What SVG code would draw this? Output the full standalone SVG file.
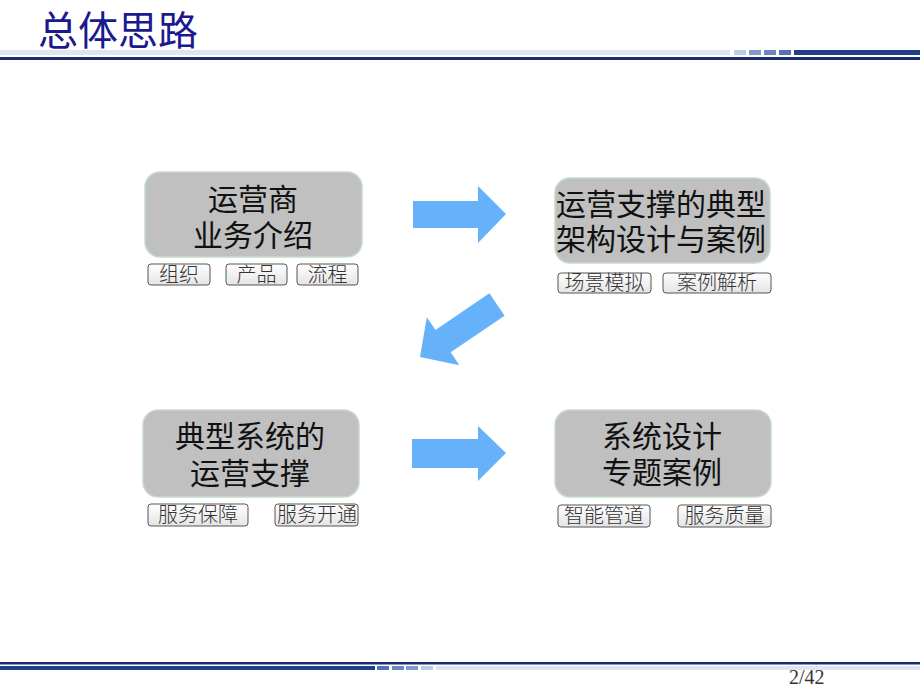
<svg xmlns="http://www.w3.org/2000/svg" width="920" height="690" viewBox="0 0 920 690">
<defs>
<linearGradient id="tagg" x1="0" y1="0" x2="0" y2="1">
<stop offset="0" stop-color="#ffffff"/>
<stop offset="1" stop-color="#e4e4e4"/>
</linearGradient>
<style>
.box{fill:#c0c0c0;stroke:#c6dcc6;stroke-width:1.5}
.bt{font-family:"Noto Sans CJK SC","Noto Sans",sans-serif;font-size:30px;fill:#111;text-anchor:middle}
.tag{fill:url(#tagg);stroke:#555;stroke-width:1}
.tt{font-family:"Noto Sans CJK SC","Noto Sans",sans-serif;font-weight:300;font-size:20px;fill:#333;text-anchor:middle}
.arr{fill:#66b2fa}
</style>
</defs>
<rect width="920" height="690" fill="#ffffff"/>
<g id="header">
<text x="38" y="45" font-family="'Noto Sans CJK SC','Noto Sans',sans-serif" font-size="40" fill="#1a1a8e">总体思路</text>
<rect x="0" y="50" width="730" height="5" fill="#dfe4f1"/>
<rect x="734" y="50" width="12" height="5" fill="#b9cde6"/>
<rect x="749" y="50" width="12" height="5" fill="#8299cb"/>
<rect x="764" y="50" width="12" height="5" fill="#6e86c2"/>
<rect x="779" y="50" width="12" height="5" fill="#5670b6"/>
<rect x="794" y="50" width="126" height="5" fill="#1f3f88"/>
<rect x="0" y="57" width="920" height="3" fill="#1b2c6e"/>
</g>
<g id="footer">
<rect x="0" y="662" width="920" height="2.5" fill="#1b2c6e"/>
<rect x="0" y="666" width="375" height="4" fill="#1f3f88"/>
<rect x="377" y="666" width="12" height="4" fill="#5670b6"/>
<rect x="392" y="666" width="12" height="4" fill="#6e86c2"/>
<rect x="406" y="666" width="12" height="4" fill="#8299cb"/>
<rect x="421" y="666" width="12" height="4" fill="#b9cde6"/>
<rect x="436" y="666" width="484" height="4" fill="#dfe4f1"/>
<text x="789" y="684" font-family="'Liberation Serif',serif" font-size="20" fill="#333">2/42</text>
</g>
<g id="connectors">
<polygon class="arr" points="413,201 478,201 478,186 506,214 478,243 478,228 413,228"/>
<polygon class="arr" points="489.4,293.3 504.6,315.7 450.7,352.3 459.4,365.2 420,357 426.8,317.2 435.5,330.1"/>
<polygon class="arr" points="412,439 478,439 478,426 506,453 478,481 478,468 412,468"/>
</g>
<g id="node1">
<rect class="box" x="145" y="172" width="217" height="85" rx="15"/>
<text class="bt"><tspan x="253" y="210">运营商</tspan><tspan x="253" y="246">业务介绍</tspan></text>
<rect class="tag" x="148" y="264" width="62" height="21" rx="3"/>
<text class="tt" x="179" y="282">组织</text>
<rect class="tag" x="226" y="264" width="61" height="21" rx="3"/>
<text class="tt" x="256.5" y="282">产品</text>
<rect class="tag" x="297" y="264" width="61" height="21" rx="3"/>
<text class="tt" x="327.5" y="282">流程</text>
</g>
<g id="node2">
<rect class="box" x="555" y="178" width="215" height="85" rx="15"/>
<text class="bt"><tspan x="661" y="215">运营支撑的典型</tspan><tspan x="661" y="250">架构设计与案例</tspan></text>
<rect class="tag" x="558" y="273" width="93" height="20" rx="3"/>
<text class="tt" x="604.5" y="290">场景模拟</text>
<rect class="tag" x="663" y="273" width="108" height="20" rx="3"/>
<text class="tt" x="717" y="290">案例解析</text>
</g>
<g id="node3">
<rect class="box" x="143" y="410" width="216" height="87" rx="15"/>
<text class="bt"><tspan x="250" y="447">典型系统的</tspan><tspan x="250" y="484">运营支撑</tspan></text>
<rect class="tag" x="148" y="504" width="100" height="22" rx="3"/>
<text class="tt" x="198" y="522">服务保障</text>
<rect class="tag" x="275" y="504" width="83" height="22" rx="3"/>
<text class="tt" x="317" y="522">服务开通</text>
</g>
<g id="node4">
<rect class="box" x="555" y="410" width="216" height="87" rx="15"/>
<text class="bt"><tspan x="662" y="447">系统设计</tspan><tspan x="662" y="483">专题案例</tspan></text>
<rect class="tag" x="558" y="505" width="92" height="22" rx="3"/>
<text class="tt" x="604" y="523">智能管道</text>
<rect class="tag" x="678" y="505" width="93" height="22" rx="3"/>
<text class="tt" x="724.5" y="523">服务质量</text>
</g>
</svg>
